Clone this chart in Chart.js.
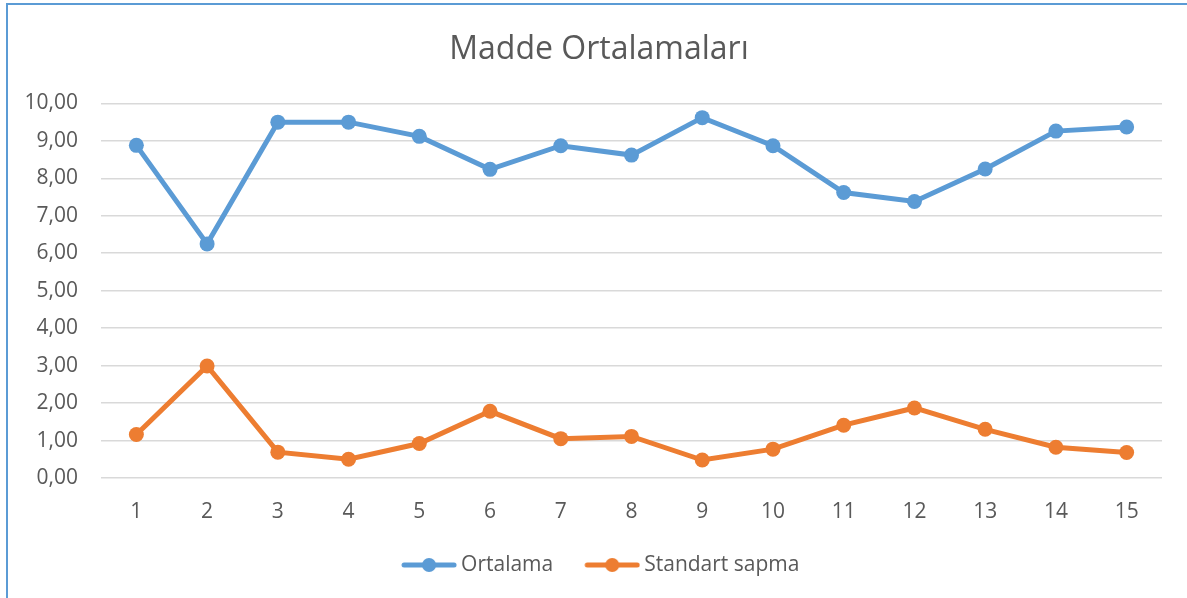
<!DOCTYPE html>
<html>
<head>
<meta charset="utf-8">
<script src="https://cdn.jsdelivr.net/npm/chart.js@4/dist/chart.umd.min.js"></script>
<style>
  html, body { margin: 0; padding: 0; background: #fff; overflow: hidden; }
  #wrap { position: relative; width: 1187px; height: 598px; }
  #frame { position: absolute; left: 6px; top: 3px; width: 1300px; height: 700px; border-left: 2px solid #5b9bd5; border-top: 2px solid #5b9bd5; }
  canvas { position: absolute; left: 0; top: 0; }
</style>
</head>
<body>
<div id="wrap">
  <div id="frame"></div>
  <canvas id="chart" width="1187" height="598"></canvas>
</div>
<script>
  const categories = ['1', '2', '3', '4', '5', '6', '7', '8', '9', '10', '11', '12', '13', '14', '15'];
  const ortalama = [8.88, 6.25, 9.50, 9.50, 9.12, 8.24, 8.87, 8.62, 9.62, 8.87, 7.62, 7.38, 8.25, 9.26, 9.37];
  const standartSapma = [1.16, 2.99, 0.69, 0.50, 0.92, 1.78, 1.05, 1.11, 0.48, 0.77, 1.41, 1.87, 1.30, 0.82, 0.68];
  const yTicks = [0, 1, 2, 3, 4, 5, 6, 7, 8, 9, 10];

  const BLUE = '#5b9bd5';
  const ORANGE = '#ed7d31';
  const TEXT = '#595959';
  const FONT = "'Open Sans', sans-serif";

  // legend marker: line with a dot in the middle, like Excel.
  // the left part of the image is left empty so the marker sits close to its text
  function legendMarker(color) {
    const c = document.createElement('canvas');
    c.width = 65;
    c.height = 16;
    const ctx = c.getContext('2d');
    ctx.strokeStyle = color;
    ctx.lineWidth = 5;
    ctx.lineCap = 'round';
    ctx.beginPath();
    ctx.moveTo(12, 8);
    ctx.lineTo(62, 8);
    ctx.stroke();
    ctx.fillStyle = color;
    ctx.beginPath();
    ctx.arc(37, 8, 7, 0, Math.PI * 2);
    ctx.fill();
    return c;
  }

  new Chart(document.getElementById('chart'), {
    type: 'line',
    data: {
      labels: categories,
      datasets: [
        { label: 'Ortalama', data: ortalama, borderColor: BLUE, backgroundColor: BLUE, borderWidth: 5, pointRadius: 7.5, pointHoverRadius: 7.5, pointBackgroundColor: BLUE, pointBorderWidth: 0, tension: 0, fill: false },
        { label: 'Standart sapma', data: standartSapma, borderColor: ORANGE, backgroundColor: ORANGE, borderWidth: 5, pointRadius: 7.5, pointHoverRadius: 7.5, pointBackgroundColor: ORANGE, pointBorderWidth: 0, tension: 0, fill: false }
      ]
    },
    options: {
      responsive: false,
      animation: false,
      layout: { padding: { left: 20, right: 9, top: 10, bottom: 12.5 } },
      plugins: {
        title: {
          display: true,
          text: 'Madde Ortalamaları',
          color: TEXT,
          font: { family: FONT, size: 32, weight: 'normal' },
          padding: { top: 21, bottom: 34 }
        },
        legend: {
          position: 'bottom',
          labels: {
            usePointStyle: true,
            pointStyleWidth: 52,
            padding: 28.5,
            color: TEXT,
            font: { family: FONT, size: 21 },
            generateLabels(chart) {
              return chart.data.datasets.map((ds, i) => ({
                text: ds.label,
                fontColor: TEXT,
                pointStyle: legendMarker(ds.borderColor),
                datasetIndex: i,
                hidden: false,
                lineWidth: 0
              }));
            }
          }
        },
        tooltip: { enabled: false }
      },
      scales: {
        x: {
          offset: true,
          afterFit(axis) { axis.height = 48; },
          grid: { display: false },
          border: { display: false },
          ticks: { color: TEXT, font: { family: FONT, size: 21 }, padding: 13 }
        },
        y: {
          min: 0,
          max: 10,
          afterBuildTicks(axis) { axis.ticks = yTicks.map((v) => ({ value: v })); },
          afterFit(axis) { axis.width = 81; },
          grid: { color: '#d9d9d9', lineWidth: 1.5, drawTicks: false },
          border: { display: false },
          ticks: {
            color: TEXT,
            font: { family: FONT, size: 21 },
            padding: 23,
            callback: (v) => Number(v).toFixed(2).replace('.', ',')
          }
        },
        // empty right-hand spacer so the plot ends where the original does
        spacer: {
          type: 'linear',
          position: 'right',
          grid: { display: false },
          border: { display: false },
          ticks: { display: false },
          afterFit(axis) { axis.width = 16; }
        }
      }
    }
  });
</script>
</body>
</html>
